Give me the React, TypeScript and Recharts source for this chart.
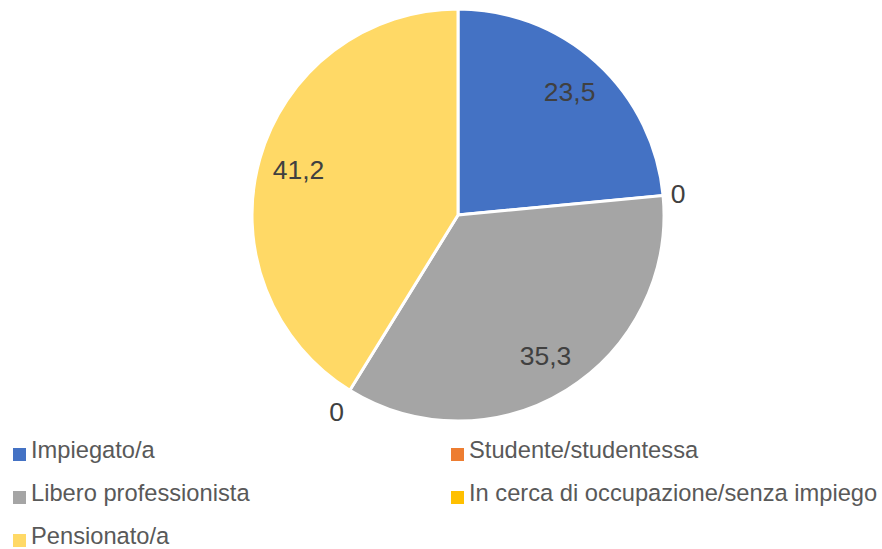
import { PieChart, Pie, Cell, Legend } from 'recharts';

const categories = [
  'Impiegato/a',
  'Studente/studentessa',
  'Libero professionista',
  'In cerca di occupazione/senza impiego',
  'Pensionato/a',
];
const values = [23.5, 0, 35.3, 0, 41.2];
const colors = ['#4472C4', '#ED7D31', '#A5A5A5', '#FFC000', '#FFD966'];

const data = categories.map((name, i) => ({ name, value: values[i] }));

const RADIAN = Math.PI / 180;
const FONT = '"Liberation Sans", Arial, sans-serif';

const renderLabel = (props: any) => {
  const { cx, cy, midAngle, outerRadius, value } = props;
  const cos = Math.cos(-midAngle * RADIAN);
  const sin = Math.sin(-midAngle * RADIAN);
  let r = outerRadius * 0.805;
  if (value === 0) {
    // Excel puts empty slices' labels just outside the rim
    r = outerRadius + 6 + 7.5 * Math.abs(cos) + 18 * Math.abs(sin);
  }
  const x = cx + r * cos;
  const y = cy + r * sin;
  return (
    <text
      x={x}
      y={y}
      fill="#404040"
      fontSize={26.5}
      fontFamily={FONT}
      textAnchor="middle"
      dominantBaseline="central"
    >
      {String(value).replace('.', ',')}
    </text>
  );
};

const legendSlots = [
  { left: 13, top: 18 },
  { left: 451, top: 18 },
  { left: 13, top: 61 },
  { left: 451, top: 61 },
  { left: 13, top: 104 },
];

const renderLegend = () => (
  <div style={{ position: 'relative', width: 882, height: 119, fontFamily: FONT }}>
    {categories.map((name, i) => (
      <div key={name}>
        <div
          style={{
            position: 'absolute',
            left: legendSlots[i].left,
            top: legendSlots[i].top,
            width: 13,
            height: 13,
            background: colors[i],
          }}
        />
        <span
          style={{
            position: 'absolute',
            left: legendSlots[i].left + 18,
            top: legendSlots[i].top - 9,
            fontSize: 23.7,
            lineHeight: 1,
            color: '#595959',
            whiteSpace: 'nowrap',
          }}
        >
          {name}
        </span>
      </div>
    ))}
  </div>
);

export default function App() {
  return (
    <div style={{ position: 'absolute', left: 0, top: 0, width: 882, height: 549, background: '#fff' }}>
      <PieChart width={882} height={549} margin={{ top: 0, right: 0, bottom: 0, left: 0 }}>
        <Pie
          data={data}
          dataKey="value"
          nameKey="name"
          cx={458}
          cy={215}
          outerRadius={206}
          startAngle={90}
          endAngle={-270}
          stroke="#fff"
          strokeWidth={3}
          label={renderLabel}
          labelLine={false}
          isAnimationActive={false}
        >
          {data.map((entry, i) => (
            <Cell key={`cell-${entry.name}`} fill={colors[i]} />
          ))}
        </Pie>
        <Legend
          content={renderLegend}
          wrapperStyle={{ position: 'absolute', left: 0, top: 430, width: 882, height: 119 }}
        />
      </PieChart>
    </div>
  );
}
